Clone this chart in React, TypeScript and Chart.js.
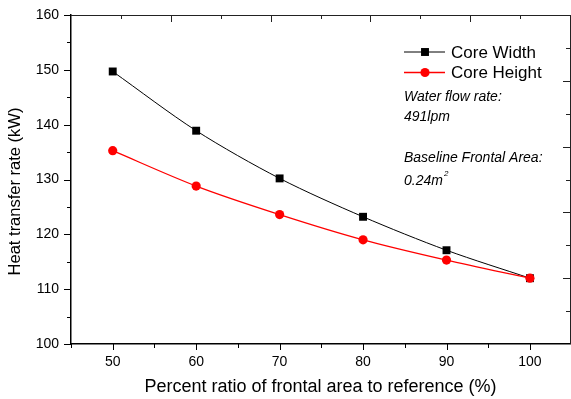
import React, { useEffect, useRef } from "react";
import { Chart, registerables } from "chart.js";
Chart.register(...registerables);

const ratios = [50, 60, 70, 80, 90, 100];
const coreWidth = [149.7, 138.9, 130.2, 123.2, 117.1, 112.0];
const coreHeight = [135.25, 128.8, 123.6, 119.0, 115.3, 112.0];
const xTickValues = [50, 60, 70, 80, 90, 100];
const yTickValues = [100, 110, 120, 130, 140, 150, 160];
const seriesNames = ["Core Width", "Core Height"];
const noteLines = ["Water flow rate:", "491lpm", "Baseline Frontal Area:", "0.24m"];
const noteSup = "2";
const xTitle = "Percent ratio of frontal area to reference (%)";
const yTitle = "Heat transfer rate (kW)";

const FONT = "'Liberation Sans', Arial, Helvetica, sans-serif";

function minorValues(major: number[], min: number, max: number) {
  const out: number[] = [];
  const step = major[1] - major[0];
  const first = major[0] - step / 2;
  for (let i = -1; i < major.length; i++) {
    const v = i < 0 ? first : major[i] + step / 2;
    if (v >= min - 1e-9 && v <= max + 1e-9) out.push(v);
  }
  return out;
}

const framePlugin = {
  id: "frameDecor",
  afterDraw(chart: any) {
    const { ctx, chartArea: ca, scales } = chart;
    const xs = scales.x;
    const ys = scales.y;
    const px = (v: number) => Math.round(v) + 0.5;
    ctx.save();
    ctx.strokeStyle = "#000";
    ctx.lineWidth = 1;
    const line = (x1: number, y1: number, x2: number, y2: number) => {
      ctx.beginPath();
      ctx.moveTo(x1, y1);
      ctx.lineTo(x2, y2);
      ctx.stroke();
    };
    // left axis ticks (outward)
    yTickValues.forEach((v) => {
      const y = px(ys.getPixelForValue(v));
      line(ca.left - 7, y, ca.left, y);
    });
    minorValues(yTickValues, ys.min, ys.max).forEach((v) => {
      const y = px(ys.getPixelForValue(v));
      line(ca.left - 4, y, ca.left, y);
    });
    // bottom axis ticks (outward)
    xTickValues.forEach((v) => {
      const x = px(xs.getPixelForValue(v));
      line(x, ca.bottom, x, ca.bottom + 6);
    });
    minorValues(xTickValues, xs.min, xs.max).forEach((v) => {
      const x = px(xs.getPixelForValue(v));
      line(x, ca.bottom, x, ca.bottom + 4);
    });
    // top & right frame (secondary axes without labels)
    ctx.strokeStyle = "#222";
    line(ca.left, px(ca.top), ca.right, px(ca.top));
    line(px(ca.right), ca.top, px(ca.right), ca.bottom);
    const divisions = 10;
    for (let i = 1; i < divisions; i++) {
      const len = i % 2 === 0 ? 7 : 4;
      const x = px(ca.left + ((ca.right - ca.left) * i) / divisions);
      line(x, ca.top, x, ca.top + len);
      const y = px(ca.top + ((ca.bottom - ca.top) * i) / divisions);
      line(ca.right, y, ca.right - len, y);
    }

    // legend
    const lx = ca.left + 333;
    const ly = ca.top + 37;
    chart.data.datasets.forEach((ds: any, i: number) => {
      const y = ly + i * 20.5;
      ctx.strokeStyle = ds.borderColor;
      ctx.lineWidth = ds.borderWidth;
      line(lx, y, lx + 41, y);
      ctx.fillStyle = ds.backgroundColor;
      const cx = lx + 21;
      if (ds.pointStyle === "rect") {
        const s = ds.pointRadius * Math.SQRT1_2;
        ctx.fillRect(cx - s, y - s, 2 * s, 2 * s);
      } else {
        ctx.beginPath();
        ctx.arc(cx, y, ds.pointRadius, 0, Math.PI * 2);
        ctx.fill();
      }
      ctx.fillStyle = "#000";
      ctx.font = `17px ${FONT}`;
      ctx.textBaseline = "middle";
      ctx.textAlign = "left";
      ctx.fillText(ds.label, lx + 47, y + 1);
    });

    // notes
    ctx.fillStyle = "#000";
    ctx.font = `italic 14px ${FONT}`;
    ctx.textBaseline = "middle";
    const noteY = [96.7, 117.3, 157.7, 180.7];
    noteLines.forEach((t, i) => ctx.fillText(t, lx, noteY[i]));
    const w = ctx.measureText(noteLines[3]).width;
    ctx.font = `italic 8px ${FONT}`;
    ctx.fillText(noteSup, lx + w + 1, noteY[3] - 6.5);

    // axis titles
    ctx.font = `18px ${FONT}`;
    ctx.textAlign = "center";
    ctx.fillText(xTitle, (ca.left + ca.right) / 2, 387);
    ctx.save();
    ctx.translate(15.5, 191.5);
    ctx.rotate(-Math.PI / 2);
    ctx.font = `16.5px ${FONT}`;
    ctx.fillText(yTitle, 0, 0);
    ctx.restore();
    ctx.restore();
  },
};

export default function App() {
  const ref = useRef<HTMLCanvasElement | null>(null);
  useEffect(() => {
    if (!ref.current) return;
    const chart = new Chart(ref.current, {
      type: "line",
      data: {
        labels: ratios,
        datasets: [
          {
            label: seriesNames[0],
            data: ratios.map((x, i) => ({ x, y: coreWidth[i] })),
            borderColor: "#000000",
            backgroundColor: "#000000",
            borderWidth: 1,
            pointStyle: "rect",
            pointRadius: 5.6,
            pointBorderWidth: 0,
            tension: 0.3,
            order: 1,
          },
          {
            label: seriesNames[1],
            data: ratios.map((x, i) => ({ x, y: coreHeight[i] })),
            borderColor: "#ff0000",
            backgroundColor: "#ff0000",
            borderWidth: 1.3,
            pointStyle: "circle",
            pointRadius: 4.6,
            pointBorderWidth: 0,
            tension: 0.3,
            order: 0,
          },
        ],
      },
      options: {
        responsive: false,
        animation: false,
        layout: { autoPadding: false, padding: { top: 15, right: 1, left: 0, bottom: 0 } },
        plugins: { legend: { display: false }, tooltip: { enabled: false } },
        scales: {
          x: {
            type: "linear",
            position: "bottom",
            min: 45,
            max: 104.8,
            afterBuildTicks: (s: any) => {
              s.ticks = xTickValues.map((value) => ({ value }));
            },
            afterFit: (s: any) => {
              s.height = 55;
              s.paddingLeft = 0;
              s.paddingRight = 0;
            },
            grid: { display: true, drawOnChartArea: false, drawTicks: false },
            border: { display: true, color: "#000", width: 1.5 },
            ticks: {
              color: "#000",
              padding: 10,
              maxRotation: 0,
              font: { family: FONT, size: 14 },
            },
          },
          y: {
            type: "linear",
            position: "left",
            min: 100,
            max: 160,
            afterBuildTicks: (s: any) => {
              s.ticks = yTickValues.map((value) => ({ value }));
            },
            afterFit: (s: any) => {
              s.width = 71;
              s.paddingTop = 0;
              s.paddingBottom = 0;
            },
            grid: { display: true, drawOnChartArea: false, drawTicks: false },
            border: { display: true, color: "#000", width: 1.5 },
            ticks: {
              color: "#000",
              padding: 12,
              font: { family: FONT, size: 14 },
            },
          },
        },
      },
      plugins: [framePlugin],
    } as any);
    return () => chart.destroy();
  }, []);
  return (
    <div style={{ position: "absolute", left: 0, top: 0, width: 571, height: 399, background: "#fff" }}>
      <canvas ref={ref} width={571} height={399} style={{ display: "block" }} />
    </div>
  );
}
